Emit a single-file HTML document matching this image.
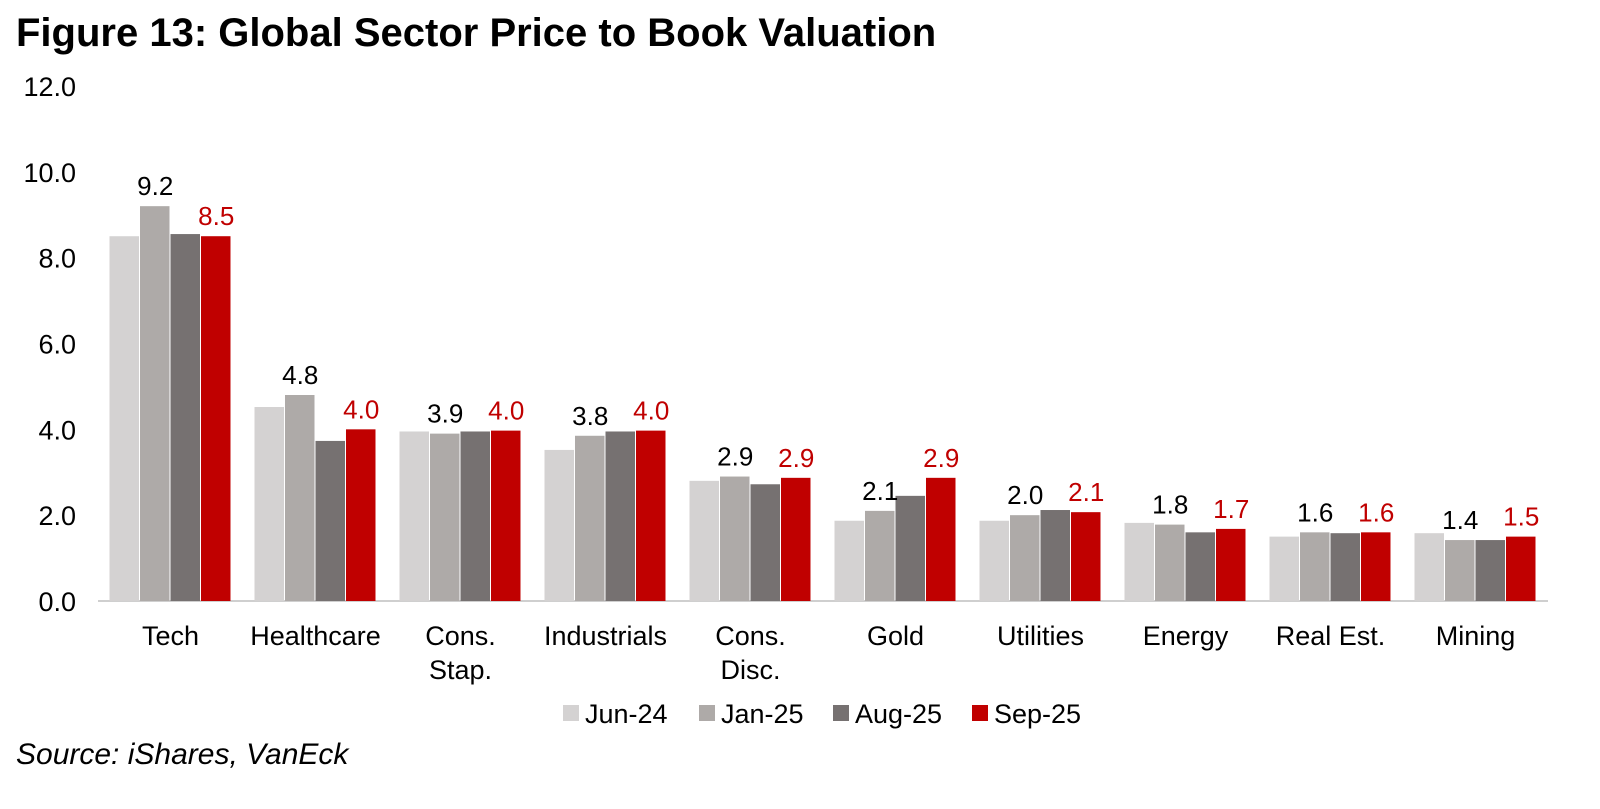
<!DOCTYPE html>
<html><head><meta charset="utf-8"><style>
body{margin:0;background:#fff;font-family:"Liberation Sans",Arial,sans-serif;}
#wrap{position:relative;width:1600px;height:809px;overflow:hidden;}
</style></head><body>
<div id="wrap">
<svg id="chart" width="1600" height="809" xmlns="http://www.w3.org/2000/svg" font-family="Liberation Sans,Arial,sans-serif">
<text x="16" y="46" font-size="40" font-weight="bold">Figure 13: Global Sector Price to Book Valuation</text>
<text x="16" y="764" font-size="30" font-style="italic">Source: iShares, VanEck</text>
</svg>
</div>
<script>
const categories=["Tech","Healthcare","Cons.|Stap.","Industrials","Cons.|Disc.","Gold","Utilities","Energy","Real Est.","Mining"];
const seriesNames=["Jun-24","Jan-25","Aug-25","Sep-25"];
const jun24=[8.5,4.52,3.95,3.52,2.8,1.87,1.87,1.82,1.5,1.58];
const jan25=[9.2,4.8,3.9,3.85,2.9,2.1,2.0,1.78,1.6,1.42];
const aug25=[8.55,3.73,3.95,3.95,2.72,2.45,2.12,1.6,1.58,1.42];
const sep25=[8.5,4.0,3.97,3.97,2.87,2.87,2.07,1.68,1.6,1.5];
const jan25Labels=["9.2","4.8","3.9","3.8","2.9","2.1","2.0","1.8","1.6","1.4"];
const sep25Labels=["8.5","4.0","4.0","4.0","2.9","2.9","2.1","1.7","1.6","1.5"];
const yTicks=[0,2,4,6,8,10,12];
const colors=["#d4d2d2","#aeaaa8","#767171","#c00000"];
const NS="http://www.w3.org/2000/svg";
const svg=document.getElementById('chart');
const x0=98,x1=1548,yBase=601,yTop=86,yMax=12;
const y=v=>yBase-(v/yMax)*(yBase-yTop);
const band=(x1-x0)/categories.length;
const bw=30.5;
function mk(tag,attrs,txt){const e=document.createElementNS(NS,tag);for(const k in attrs)e.setAttribute(k,attrs[k]);if(txt!==undefined)e.textContent=txt;svg.appendChild(e);return e;}
yTicks.forEach(t=>{
 const e=mk('text',{x:76,y:y(t)+10,'font-size':27,'text-anchor':'end'},t.toFixed(1));
 
 
});
const axis=mk('line',{x1:x0,x2:x1,y1:yBase,y2:yBase,stroke:'#bfbfbf','stroke-width':1.5});


const all=[jun24,jan25,aug25,sep25];
categories.forEach((c,i)=>{
 const cx=x0+band*(i+0.5);
 all.forEach((s,j)=>{
  const bx=cx-2*bw+j*bw;
  const r=mk('rect',{x:bx,y:y(s[i]),width:bw-1,height:yBase-y(s[i]),fill:colors[j]});
  
  
 });
 const l1=mk('text',{x:cx-2*bw+1.5*bw,y:y(jan25[i])-11,'font-size':26,'text-anchor':'middle',fill:'#000'},jan25Labels[i]);
 
 
 const l2=mk('text',{x:cx+1.5*bw,y:y(sep25[i])-11,'font-size':26,'text-anchor':'middle',fill:'#c00000'},sep25Labels[i]);
 
 
 c.split('|').forEach((ln,k)=>{
  const t=mk('text',{x:cx,y:645+k*34,'font-size':27,'text-anchor':'middle'},ln);
  
  
 });
});
const legX=[563,699,833,972];
seriesNames.forEach((n,j)=>{
 const r=mk('rect',{x:legX[j],y:705,width:16,height:16,fill:colors[j]});
 
 
 const t=mk('text',{x:legX[j]+22,y:723,'font-size':27},n);
 
 
});
</script>
</body></html>
